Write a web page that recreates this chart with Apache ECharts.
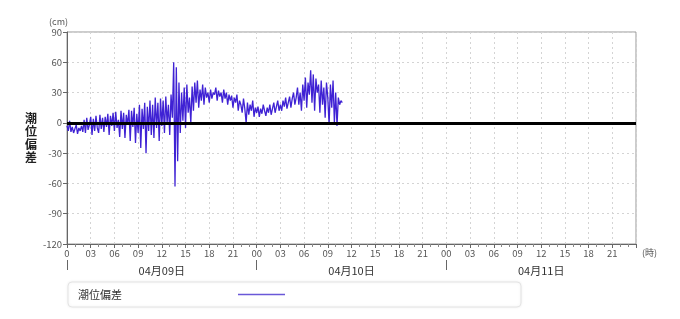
<!DOCTYPE html>
<html><head><meta charset="utf-8">
<script src="https://cdn.jsdelivr.net/npm/echarts@6/dist/echarts.min.js"></script>
<style>html,body{margin:0;padding:0;background:#fff}#c{width:680px;height:319px}</style>
</head><body><div id="c"></div>
<script>
// 10-minute samples starting 04月09日 00:00 (cm)
const seriesName = '潮位偏差';
const tideDeviation = [
 -3,-8,2,-9,-4,-10,
 -6,-2,-11,-5,-8,-3,
 -9,3,-10,5,-7,-2,
 6,-12,4,-8,7,-5,
 -10,8,-6,5,-9,6,
 -4,9,-12,7,-3,10,
 -8,11,-5,3,-14,12,
 -6,10,-15,8,-2,13,
 -18,12,-4,15,-20,9,
 -10,18,-25,14,-6,20,
 -30,16,-8,22,-12,18,
 -15,25,-5,20,-18,24,
 -3,22,-10,26,0,18,
 -12,28,5,60,-63,55,
 -38,40,-10,30,2,35,
 -5,38,10,25,0,36,
 12,40,20,42,15,33,
 22,38,18,35,25,30,
 20,33,24,30,28,35,
 22,32,26,30,20,33,
 24,30,18,28,22,27,
 15,25,20,28,12,22,
 18,10,24,14,0,20,
 8,18,12,22,6,15,
 10,16,6,14,9,18,
 12,7,15,10,18,8,
 14,20,10,16,22,12,
 18,12,22,16,25,14,
 20,26,15,24,30,18,
 25,35,18,30,12,38,
 22,45,15,40,28,52,
 20,48,12,44,30,38,
 10,42,18,35,5,40,
 25,-2,38,15,42,0,
 30,-3,25,18,22,20
];
const hourLabels = ['0','03','06','09','12','15','18','21','00','03','06','09','12','15','18','21','00','03','06','09','12','15','18','21'];
const dateLabels = ['04月09日','04月10日','04月11日'];
const yTicks = [-120,-90,-60,-30,0,30,60,90];

const font = '"Noto Sans CJK JP", "Noto Sans", sans-serif';
const data = tideDeviation.map((v, i) => [i / 6, v]);
const hourCats = [];
for (let h = 0; h <= 72; h++) hourCats.push(String(h));

const chart = echarts.init(document.getElementById('c'));
chart.setOption({
  animation: false,
  textStyle: { fontFamily: font },
  title: { text: '(cm)', left: 44, top: 12, textStyle: { fontSize: 9, fontWeight: 'normal', color: '#555', fontFamily: font } },
  grid: { left: 67, right: 44, top: 32, bottom: 75, show: true, borderColor: '#999', borderWidth: 1 },
  legend: {
    left: 68, top: 282, orient: 'horizontal', align: 'right',
    padding: [7, 236, 7, 10],
    icon: 'rect', itemWidth: 47, itemHeight: 1.5,
    itemStyle: { color: '#6a58d8' },
    backgroundColor: '#fff', borderColor: '#e4e4e4', borderWidth: 1, borderRadius: 4,
    shadowBlur: 3, shadowColor: 'rgba(0,0,0,0.08)',
    formatter: name => '{a|' + name + '}',
    textStyle: { fontSize: 11, color: '#333', fontFamily: font,
      rich: { a: { padding: [0, 111, 0, 0], fontSize: 11, color: '#333', fontFamily: font } } },
    data: [seriesName]
  },
  xAxis: [{
    type: 'value', min: 0, max: 72, interval: 3,
    name: '(時)', nameLocation: 'end', nameGap: 6,
    nameTextStyle: { fontSize: 9, color: '#555', verticalAlign: 'top', padding: [4, 0, 0, 0] },
    axisLine: { onZero: false, lineStyle: { color: '#666' } },
    axisTick: { show: true, length: 4, lineStyle: { color: '#666' } },
    minorTick: { show: true, splitNumber: 3, length: 3, lineStyle: { color: '#888' } },
    axisLabel: { fontSize: 9.5, color: '#555', margin: 5, formatter: v => hourLabels[Math.round(v / 3)] || '' },
    splitLine: { show: true, lineStyle: { color: '#d4d4d4', type: [2, 3] } }
  }, {
    type: 'category', data: hourCats, boundaryGap: false, position: 'bottom', offset: 16,
    gridIndex: 0,
    axisLine: { show: false, onZero: false },
    axisTick: { show: true, length: 10, interval: (i) => i % 24 === 0 && i < 72, lineStyle: { color: '#666' } },
    axisLabel: { fontSize: 11, color: '#333', margin: 5, interval: (i) => i % 24 === 12,
      formatter: (val, idx) => dateLabels[Math.floor(Number(val) / 24)] || '' },
    splitLine: { show: false }
  }],
  yAxis: {
    type: 'value', min: yTicks[0], max: yTicks[yTicks.length - 1], interval: 30,
    name: '潮\n位\n偏\n差', nameLocation: 'middle', nameRotate: 0, nameGap: 29,
    nameTextStyle: { fontSize: 12, fontWeight: 'bold', color: '#222', lineHeight: 13, padding: [8, 0, 0, 0] },
    axisLine: { show: true, lineStyle: { color: '#666' } },
    axisTick: { show: true, length: 4, lineStyle: { color: '#666' } },
    axisLabel: { fontSize: 9.5, color: '#555', margin: 5 },
    splitLine: { show: true, lineStyle: { color: '#d4d4d4', type: [2, 3] } }
  },
  series: [{
    name: seriesName, type: 'line', xAxisIndex: 0, data: data,
    symbol: 'none', lineStyle: { color: '#3f22d4', width: 1.3 }, itemStyle: { color: '#3f22d4' },
    markLine: {
      silent: true, symbol: 'none', label: { show: false },
      lineStyle: { color: '#000', width: 3, type: 'solid' },
      data: [{ yAxis: 0 }]
    }
  }]
});
</script></body></html>
